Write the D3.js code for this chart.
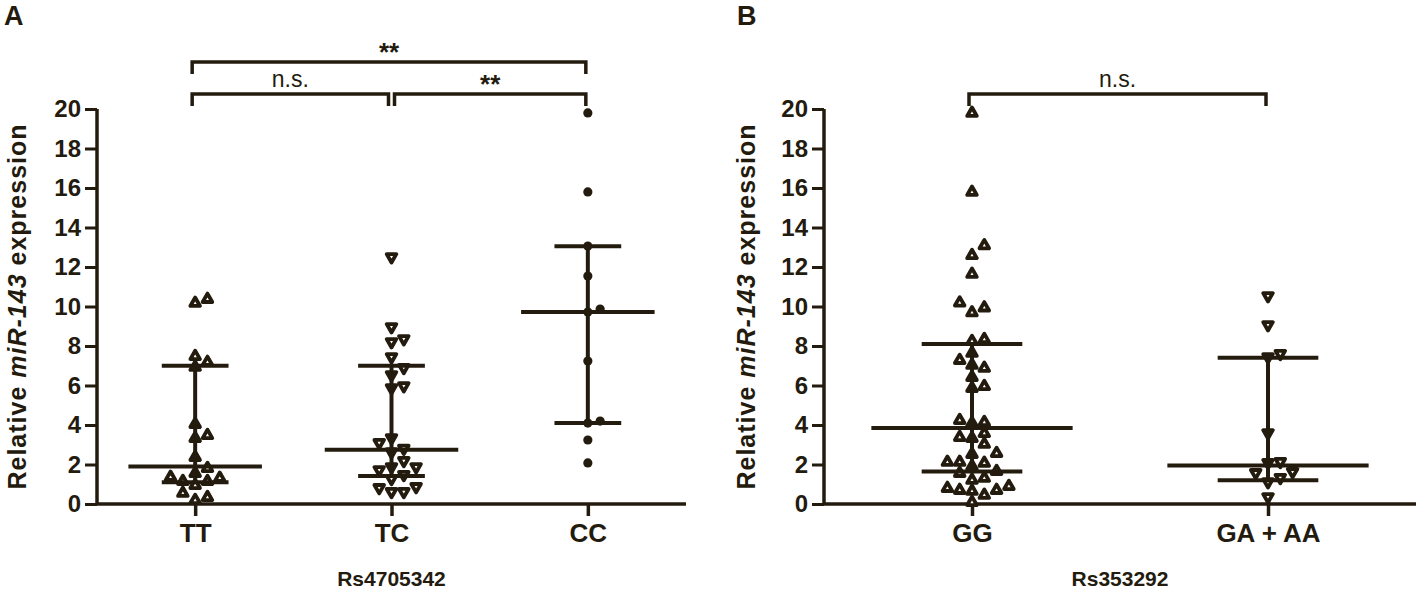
<!DOCTYPE html>
<html>
<head>
<meta charset="utf-8">
<script src="https://cdn.jsdelivr.net/npm/d3@7"></script>
<style>
  body { margin: 0; background: #fff; }
  svg { display: block; }
  text { font-family: "Liberation Sans", Arial, sans-serif; fill: #241b0f; }
</style>
</head>
<body>
<svg id="chart" width="1417" height="596"></svg>
<script>
// values
const yTicks = [0, 2, 4, 6, 8, 10, 12, 14, 16, 18, 20];

// panel A: Rs4705342
const groupsA = ["TT", "TC", "CC"];
const ttValues = [0.2, 0.35, 0.56, 0.96, 1.16, 1.16, 1.32, 1.37, 1.57, 1.82, 2.38, 3.34, 3.49, 4.05, 6.94, 7.19, 7.49, 10.18, 10.38];
const tcValues = [0.61, 0.61, 0.81, 0.86, 1.27, 1.47, 1.72, 1.87, 1.87, 2.18, 2.63, 2.8, 3.09, 3.34, 5.87, 5.97, 6.53, 6.89, 7.44, 8.2, 8.35, 8.96, 12.5];
const ccValues = [2.08, 3.24, 4.1, 4.2, 7.24, 9.72, 9.87, 11.54, 13.06, 15.8, 19.8];
const medianA = [1.9, 2.75, 9.72];
const lowerA = [1.1, 1.42, 4.1];
const upperA = [7.0, 7.0, 13.05];

// panel B: Rs353292
const groupsB = ["GG", "GA + AA"];
const ggValues = [0.1, 0.46, 0.66, 0.71, 0.71, 0.81, 0.91, 1.22, 1.32, 1.57, 1.67, 1.92, 2.08, 2.13, 2.13, 2.53, 2.58, 3.04, 3.34, 3.39, 3.59, 4.1, 4.15, 4.25, 5.87, 5.97, 6.43, 6.89, 7.04, 7.29, 7.65, 8.25, 8.35, 9.7, 9.95, 10.2, 11.65, 12.6, 13.1, 15.8, 19.8];
const gaValues = [0.35, 1.11, 1.32, 1.57, 1.62, 2.08, 2.13, 3.59, 7.44, 7.6, 9.06, 10.53];
const medianB = [3.85, 1.95];
const lowerB = [1.65, 1.2];
const upperB = [8.1, 7.4];

const ink = "#241b0f";
const svg = d3.select("#chart");

const panels = [
  {
    letter: "A", letterX: 4, axisX: 97, right: 686, labelX: 26,
    groups: groupsA, values: [ttValues, tcValues, ccValues],
    shapes: ["up", "down", "circle"],
    median: medianA, lower: lowerA, upper: upperA,
    title: "Rs4705342",
    brackets: [
      { from: 0, to: 2, y: 62, label: "**", bold: true },
      { from: 0, to: 1, y: 94, label: "n.s.", bold: false },
      { from: 1, to: 2, y: 94, label: "**", bold: true },
    ],
  },
  {
    letter: "B", letterX: 737, axisX: 824, right: 1416, labelX: 755,
    groups: groupsB, values: [ggValues, gaValues],
    shapes: ["up", "down"],
    median: medianB, lower: lowerB, upper: upperB,
    title: "Rs353292",
    brackets: [{ from: 0, to: 1, y: 94, label: "n.s.", bold: false }],
  },
];

const y = d3.scaleLinear().domain([0, 20]).range([504, 109]);

// spread points sideways so close values do not sit on top of each other
function swarm(values, step, minDy) {
  const order = values.map((v, i) => i).sort((a, b) => values[a] - values[b]);
  const placed = [];
  const offsets = new Array(values.length);
  order.forEach((i) => {
    const py = y(values[i]);
    for (let k = 0; k < 20; k++) {
      const col = k === 0 ? 0 : (k % 2 === 1 ? (k + 1) / 2 : -k / 2);
      const hit = placed.some((p) => p.col === col && Math.abs(p.y - py) < minDy);
      if (!hit) {
        placed.push({ col: col, y: py });
        offsets[i] = col * step;
        break;
      }
    }
  });
  return offsets;
}

function markerPath(shape) {
  if (shape === "up") return "M0,-5.4L4.8,3L-4.8,3Z";
  return "M0,5.4L4.8,-3L-4.8,-3Z";
}

panels.forEach((p) => {
  const g = svg.append("g");
  const x = d3.scalePoint().domain(p.groups).range([p.axisX, p.right]).padding(0.5);
  const step = x.step();

  // panel letter
  g.append("text")
    .attr("x", p.letterX)
    .attr("y", 25)
    .attr("font-size", "27px")
    .attr("font-weight", "bold")
    .text(p.letter);

  // y axis
  const yAxis = g.append("g")
    .attr("transform", "translate(" + p.axisX + ",0)")
    .call(d3.axisLeft(y).tickValues(yTicks).tickSize(12).tickPadding(4).tickFormat(d3.format("d")));
  yAxis.select(".domain").attr("stroke", ink).attr("stroke-width", 3.5).attr("d", "M0,504V109");
  yAxis.selectAll(".tick line").attr("stroke", ink).attr("stroke-width", 3);
  yAxis.selectAll(".tick text")
    .attr("font-size", "24px")
    .attr("font-weight", "bold")
    .attr("font-family", "'Liberation Sans', Arial, sans-serif")
    .attr("fill", ink);

  // x axis
  const xAxis = g.append("g")
    .attr("transform", "translate(0," + y(0) + ")")
    .call(d3.axisBottom(x).tickSize(12).tickPadding(8));
  xAxis.select(".domain").attr("stroke", ink).attr("stroke-width", 3.5)
    .attr("d", "M" + p.axisX + ",0H" + p.right);
  xAxis.selectAll(".tick line").attr("stroke", ink).attr("stroke-width", 3.5);
  xAxis.selectAll(".tick text")
    .attr("font-size", "26px")
    .attr("font-weight", "bold")
    .attr("font-family", "'Liberation Sans', Arial, sans-serif")
    .attr("fill", ink);

  // axis title
  g.append("text")
    .attr("x", (p.axisX + p.right) / 2)
    .attr("y", 586)
    .attr("text-anchor", "middle")
    .attr("font-size", "21px")
    .attr("font-weight", "bold")
    .text(p.title);

  // y label
  const yl = g.append("text")
    .attr("transform", "translate(" + p.labelX + "," + y(10) + ") rotate(-90)")
    .attr("text-anchor", "middle")
    .attr("font-size", "25px")
    .attr("font-weight", "bold")
    .attr("letter-spacing", "1px");
  yl.append("tspan").text("Relative ");
  yl.append("tspan").attr("font-style", "italic").text("miR-143");
  yl.append("tspan").text(" expression");

  // points
  p.groups.forEach((name, gi) => {
    const vals = p.values[gi];
    const offs = swarm(vals, 12.3, 10.5);
    const cx = x(name);
    const pts = g.append("g").selectAll("path,circle")
      .data(vals)
      .enter();
    if (p.shapes[gi] === "circle") {
      pts.append("circle")
        .attr("cx", (d, i) => cx + offs[i])
        .attr("cy", (d) => y(d))
        .attr("r", 4.6)
        .attr("fill", ink);
    } else {
      pts.append("path")
        .attr("transform", (d, i) => "translate(" + (cx + offs[i]) + "," + y(d) + ")")
        .attr("d", markerPath(p.shapes[gi]))
        .attr("fill", "#fff")
        .attr("stroke", ink)
        .attr("stroke-width", 3.8)
        .attr("stroke-linejoin", "round");
    }

    // median with interquartile range
    const bars = g.append("g").attr("stroke", ink).attr("stroke-width", 4);
    bars.append("line")
      .attr("x1", cx).attr("x2", cx)
      .attr("y1", y(p.lower[gi])).attr("y2", y(p.upper[gi]));
    bars.append("line")
      .attr("x1", cx - step * 0.34).attr("x2", cx + step * 0.34)
      .attr("y1", y(p.median[gi])).attr("y2", y(p.median[gi]));
    [p.lower[gi], p.upper[gi]].forEach((v) => {
      bars.append("line")
        .attr("x1", cx - step * 0.17).attr("x2", cx + step * 0.17)
        .attr("y1", y(v)).attr("y2", y(v));
    });
  });

  // significance brackets
  p.brackets.forEach((b) => {
    const x1 = x(p.groups[b.from]) + (b.from > 0 ? 3 : -3);
    const x2 = x(p.groups[b.to]) + (b.to < p.groups.length - 1 ? -3 : -2);
    g.append("path")
      .attr("d", "M" + x1 + "," + (b.y + 12) + "V" + b.y + "H" + x2 + "V" + (b.y + 12))
      .attr("fill", "none")
      .attr("stroke", ink)
      .attr("stroke-width", 3.5);
    g.append("text")
      .attr("x", (x1 + x2) / 2)
      .attr("y", b.bold ? b.y - 1 : b.y - 7)
      .attr("text-anchor", "middle")
      .attr("font-size", b.bold ? "26px" : "23px")
      .attr("font-weight", b.bold ? "bold" : "normal")
      .text(b.label);
  });
});
</script>
</body>
</html>
